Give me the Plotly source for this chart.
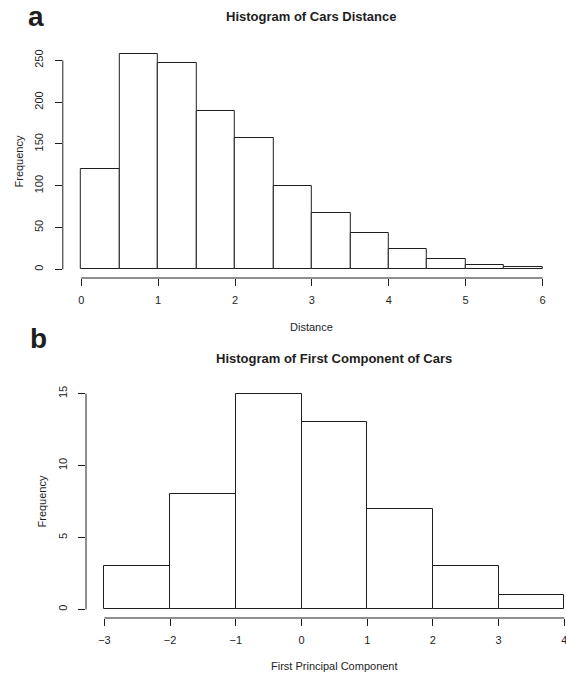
import plotly.graph_objects as go

# --- data -------------------------------------------------------------
# Panel a: histogram of car distances (bin width 0.5)
dist_edges = [0, 0.5, 1, 1.5, 2, 2.5, 3, 3.5, 4, 4.5, 5, 5.5, 6]
dist_counts = [120, 258, 247, 189, 157, 100, 67, 43, 24, 12, 5, 3]
dist_xticks = [0, 1, 2, 3, 4, 5, 6]
dist_yticks = [0, 50, 100, 150, 200, 250]

# Panel b: histogram of the first principal component (bin width 1)
pc_edges = [-3, -2, -1, 0, 1, 2, 3, 4]
pc_counts = [3, 8, 15, 13, 7, 3, 1]
pc_xticks = [-3, -2, -1, 0, 1, 2, 3, 4]
pc_xticktext = ["\u22123", "\u22122", "\u22121", "0", "1", "2", "3", "4"]
pc_yticks = [0, 5, 10, 15]

# --- layout constants ---------------------------------------------------
W, H = 566, 678
FONT = "Liberation Sans, Arial, Helvetica, sans-serif"
INK = "#1e1e1e"


def padded(lo, hi, frac=0.04):
    p = (hi - lo) * frac
    return lo - p, hi + p


def mids(edges):
    return [(a + b) / 2 for a, b in zip(edges[:-1], edges[1:])]


def widths(edges):
    return [b - a for a, b in zip(edges[:-1], edges[1:])]


# pixel boxes of the two plotting regions (left, right, top, bottom)
box_a = (62.8, 561.0, 45.0, 278.0)
box_b = (86.0, 566.0, 385.0, 618.0)


def dom_x(box):
    return [box[0] / W, box[1] / W]


def dom_y(box):
    return [1 - box[3] / H, 1 - box[2] / H]


xa_rng = padded(dist_edges[0], dist_edges[-1])
ya_rng = padded(0, max(dist_counts))
yb_rng = padded(0, max(pc_counts))
xb_full = padded(pc_edges[0], pc_edges[-1])
# the right side of panel b runs past the page edge; keep the same scale
full_px = (box_b[0], 582.7)
scale_b = (xb_full[1] - xb_full[0]) / (full_px[1] - full_px[0])
xb_rng = (xb_full[0], xb_full[0] + (box_b[1] - box_b[0]) * scale_b)

fig = go.Figure()

bar_style = dict(marker=dict(color="white", line=dict(color=INK, width=1)),
                 showlegend=False, hoverinfo="x+y")

fig.add_trace(go.Bar(x=mids(dist_edges), y=dist_counts, width=widths(dist_edges),
                     xaxis="x", yaxis="y", **bar_style))
fig.add_trace(go.Bar(x=mids(pc_edges), y=pc_counts, width=widths(pc_edges),
                     xaxis="x2", yaxis="y2", **bar_style))

axis_common = dict(showgrid=False, zeroline=False, showline=False,
                   ticks="outside", ticklen=7, tickwidth=1, tickcolor=INK,
                   ticklabeloverflow="allow",
                   tickfont=dict(family=FONT, size=11, color=INK))

fig.update_layout(
    width=W, height=H, autosize=False,
    margin=dict(l=0, r=0, t=0, b=0),
    paper_bgcolor="white", plot_bgcolor="white",
    bargap=0,
    xaxis=dict(domain=dom_x(box_a), range=list(xa_rng), anchor="y",
               tickmode="array", tickvals=dist_xticks, ticklabelstandoff=5,
               **axis_common),
    yaxis=dict(domain=dom_y(box_a), range=list(ya_rng), anchor="x",
               tickmode="array", tickvals=dist_yticks, tickangle=-90,
               ticklabelstandoff=7, **axis_common),
    xaxis2=dict(domain=dom_x(box_b), range=list(xb_rng), anchor="y2",
                tickmode="array", tickvals=pc_xticks, ticktext=pc_xticktext,
                ticklabelstandoff=5, **axis_common),
    yaxis2=dict(domain=dom_y(box_b), range=list(yb_rng), anchor="x2",
                tickmode="array", tickvals=pc_yticks, tickangle=-90,
                ticklabelstandoff=7, **axis_common),
)

# R-style axis lines spanning only the tick range
line = dict(color=INK, width=1)
shapes = [
    dict(type="line", xref="x", yref="paper", x0=dist_xticks[0], x1=dist_xticks[-1],
         y0=dom_y(box_a)[0], y1=dom_y(box_a)[0], line=line),
    dict(type="line", xref="paper", yref="y", x0=dom_x(box_a)[0], x1=dom_x(box_a)[0],
         y0=dist_yticks[0], y1=dist_yticks[-1], line=line),
    dict(type="line", xref="x2", yref="paper", x0=pc_xticks[0], x1=pc_xticks[-1],
         y0=dom_y(box_b)[0], y1=dom_y(box_b)[0], line=line),
    dict(type="line", xref="paper", yref="y2", x0=dom_x(box_b)[0], x1=dom_x(box_b)[0],
         y0=pc_yticks[0], y1=pc_yticks[-1], line=line),
]
fig.update_layout(shapes=shapes)


def note(text, x_px, y_px, size=11, bold=False, angle=0):
    fig.add_annotation(
        text=f"<b>{text}</b>" if bold else text,
        x=x_px / W, y=1 - y_px / H, xref="paper", yref="paper",
        xanchor="center", yanchor="middle", showarrow=False, textangle=angle,
        font=dict(family=FONT, size=size, color=INK),
    )


# panel letters
note("a", 36, 16, size=28, bold=True)
note("b", 38, 338, size=28, bold=True)

# titles
note("Histogram of Cars Distance", (box_a[0] + box_a[1]) / 2, 16, size=13, bold=True)
note("Histogram of First Component of Cars", (box_b[0] + 582.7) / 2, 358, size=13, bold=True)

# axis titles
note("Distance", (box_a[0] + box_a[1]) / 2, 327)
note("Frequency", 18, (box_a[2] + box_a[3]) / 2, angle=-90)
note("First Principal Component", (box_b[0] + 582.7) / 2, 666)
note("Frequency", 41, (box_b[2] + box_b[3]) / 2, angle=-90)

fig.write_html("out.html")
